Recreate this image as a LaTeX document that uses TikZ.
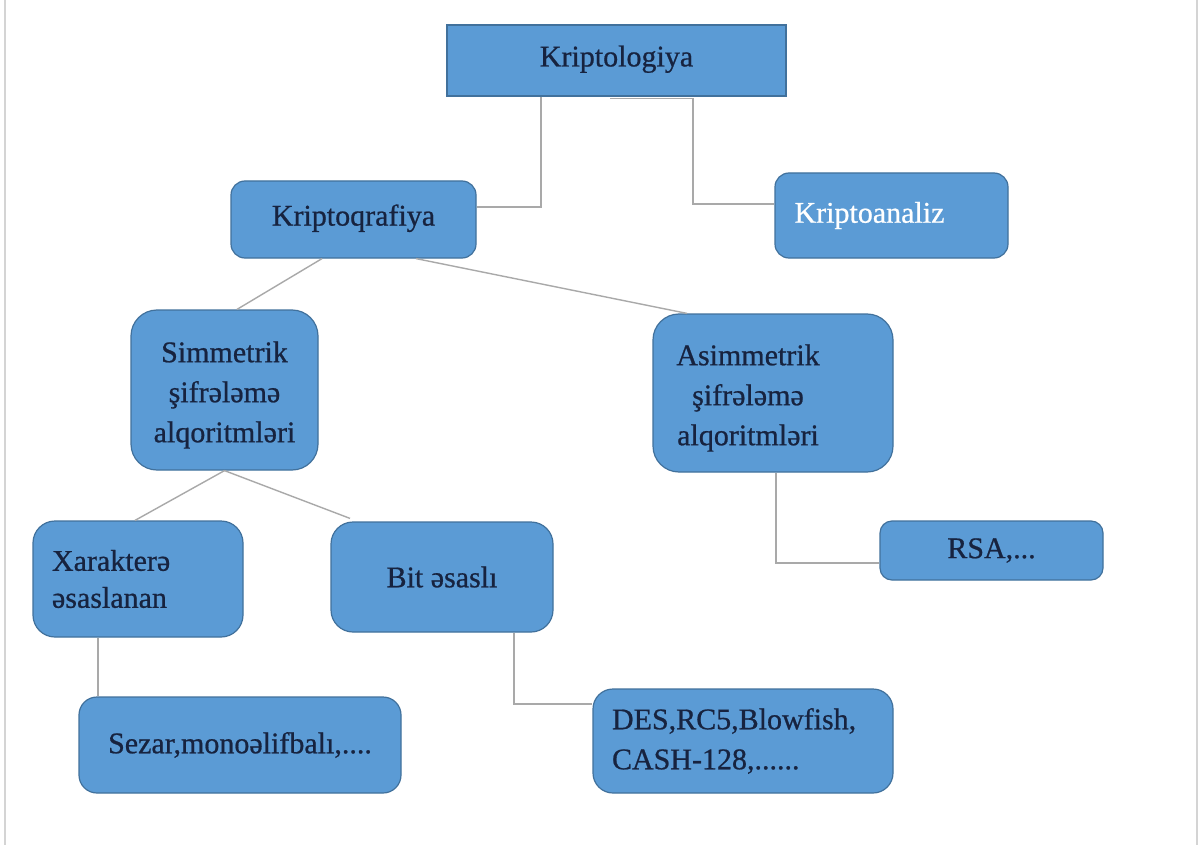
\documentclass[tikz,border=0pt]{standalone}
\usepackage{fontspec}
\setmainfont{Liberation Serif}[BoldFont=Liberation Serif, BoldFeatures={FakeBold=0.7}]
\definecolor{boxfill}{HTML}{5B9BD5}
\definecolor{boxedge}{HTML}{41719C}
\definecolor{ink}{HTML}{17233F}
\definecolor{wire}{HTML}{A9A9A9}
\definecolor{pageline}{HTML}{D4D4D4}
\tikzset{
  labelfont/.style={font=\fontsize{30}{40}\selectfont\bfseries},
  box/.style={draw=boxedge, fill=boxfill, line width=1.2pt, inner sep=0pt,
    text=ink, align=center, labelfont},
  sharpbox/.style={box},
  roundbox/.style={box, rounded corners=#1},
  roundbox/.default=14pt,
  txt/.style={text=ink, inner sep=0pt, labelfont},
  wireline/.style={draw=wire, line width=1.4pt},
}
\begin{document}
\begin{tikzpicture}[x=1pt, y=-1pt]
\useasboundingbox (0,0) rectangle (1202,845);
\fill[white] (0,0) rectangle (1202,845);
\draw[pageline, line width=1.5pt] (5,0) -- (5,845);
\draw[pageline, line width=1.5pt] (1197,0) -- (1197,845);

% boxes
\node[sharpbox, minimum width=339pt, minimum height=71pt, text depth=9pt] (kl) at (616.5,60.5) {Kriptologiya};
\node[roundbox, minimum width=245pt, minimum height=77pt, text depth=9pt] (kq) at (353.5,219.5) {Kriptoqrafiya};
\node[roundbox, text width=194pt, inner xsep=19.5pt, minimum height=85pt, align=left, text=white] (ka) at (891.5,215.5) {Kriptoanaliz};
\node[roundbox=26pt, minimum width=187pt, minimum height=160pt] (sm) at (224.5,390) {};
\node[txt, align=center] (smtext) at (224.5,395) {Simmetrik\\şifrələmə\\alqoritmləri};
\node[roundbox=26pt, minimum width=240pt, minimum height=158pt] (as) at (773,393) {};
\node[txt, align=center] (astext) at (748,398) {Asimmetrik\\şifrələmə\\alqoritmləri};
\node[roundbox=22pt, text width=172pt, inner xsep=19pt, minimum height=116pt, align=left,
      font=\fontsize{30}{37}\selectfont\bfseries] (xa) at (138,579) {Xarakterə\\əsaslanan};
\node[roundbox=22pt, minimum width=222pt, minimum height=110pt] (bit) at (442,577) {Bit əsaslı};
\node[roundbox=12pt, minimum width=223pt, minimum height=59pt] (rsa) at (991.5,550.5) {RSA,...};
\node[roundbox=20pt, text width=262pt, inner xsep=19pt, minimum height=104pt, align=left] (des) at (743,741) {DES,RC5,Blowfish,\\CASH-128,......};
\node[roundbox=18pt, minimum width=322pt, minimum height=96pt] (sz) at (240,745) {Sezar,monoəlifbalı,....};

% connectors
\draw[wireline] (kl.south -| 541,0) |- (kq.east |- 0,207);
\draw[wireline] ([yshift=-2pt]kl.south -| 610,0) -- ([yshift=-2pt]kl.south -| 693,0) |- (ka.west |- 0,204);
\draw[wireline] (kq.south -| 322,0) -- (sm.north -| 237,0);
\draw[wireline] (kq.south -| 416,0) -- (as.north -| 687,0);
\draw[wireline] (sm.south) -- (xa.north -| 135,0);
\draw[wireline] (sm.south) -- ([yshift=3pt]bit.north -| 350,0);
\draw[wireline] (as.south -| 776,0) |- (rsa.west |- 0,563);
\draw[wireline] (xa.south -| 98,0) -- (sz.north -| 98,0);
\draw[wireline] (bit.south -| 514,0) |- (des.west |- 0,704);
\end{tikzpicture}
\end{document}
